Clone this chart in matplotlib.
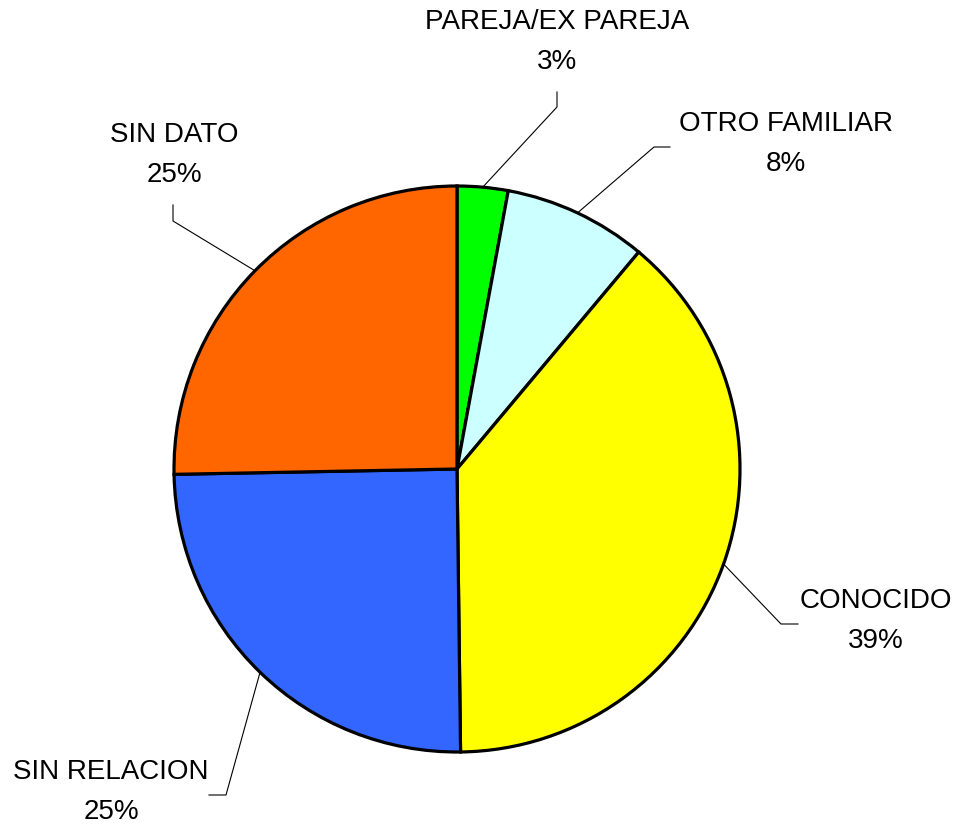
import numpy as np
import matplotlib.pyplot as plt

# data
categorias = ['PAREJA/EX PAREJA', 'OTRO FAMILIAR', 'CONOCIDO', 'SIN RELACION', 'SIN DATO']
porcentajes = [2.9, 8.2, 38.7, 24.9, 25.3]
colores = ['#00FF00', '#CCFFFF', '#FFFF00', '#3366FF', '#FF6600']

# layout (pixel coords, y up): leader bend, leader end, label centre
W, H = 957, 829
cx, cy, R = 457, H - 470, 283
codos = [(557, H - 108), (654, H - 148), (781, H - 625), (226, H - 796), (173, H - 222)]
finales = [(557, H - 93), (670, H - 148), (798, H - 625), (209, H - 796), (173, H - 206)]
etiquetas = [(557, H - 22), (786, H - 124), (876, H - 601), (111, H - 772), (174, H - 135)]
salto = 40

plt.rcParams['font.family'] = ['Liberation Sans', 'DejaVu Sans']

fig = plt.figure(figsize=(W / 100, H / 100), dpi=100)
ax = fig.add_axes([0, 0, 1, 1])
ax.set_xlim(0, W)
ax.set_ylim(0, H)
ax.set_aspect('equal')
ax.axis('off')

wedges, _ = ax.pie(porcentajes, colors=colores, startangle=90, counterclock=False,
                   center=(cx, cy), radius=R,
                   wedgeprops=dict(edgecolor='black', linewidth=2.3))
ax.set_xlim(0, W)
ax.set_ylim(0, H)

for w, nombre, p, codo, fin, lab in zip(wedges, categorias, porcentajes, codos, finales, etiquetas):
    ang = np.deg2rad((w.theta1 + w.theta2) / 2)
    x0, y0 = cx + R * np.cos(ang), cy + R * np.sin(ang)
    ax.plot([x0, codo[0], fin[0]], [y0, codo[1], fin[1]], color='black', lw=0.8)
    ax.text(lab[0], lab[1], nombre, ha='center', va='center', fontsize=20)
    ax.text(lab[0], lab[1] - salto, f'{round(p)}%', ha='center', va='center', fontsize=20)

fig.savefig('out.png', dpi=100)
